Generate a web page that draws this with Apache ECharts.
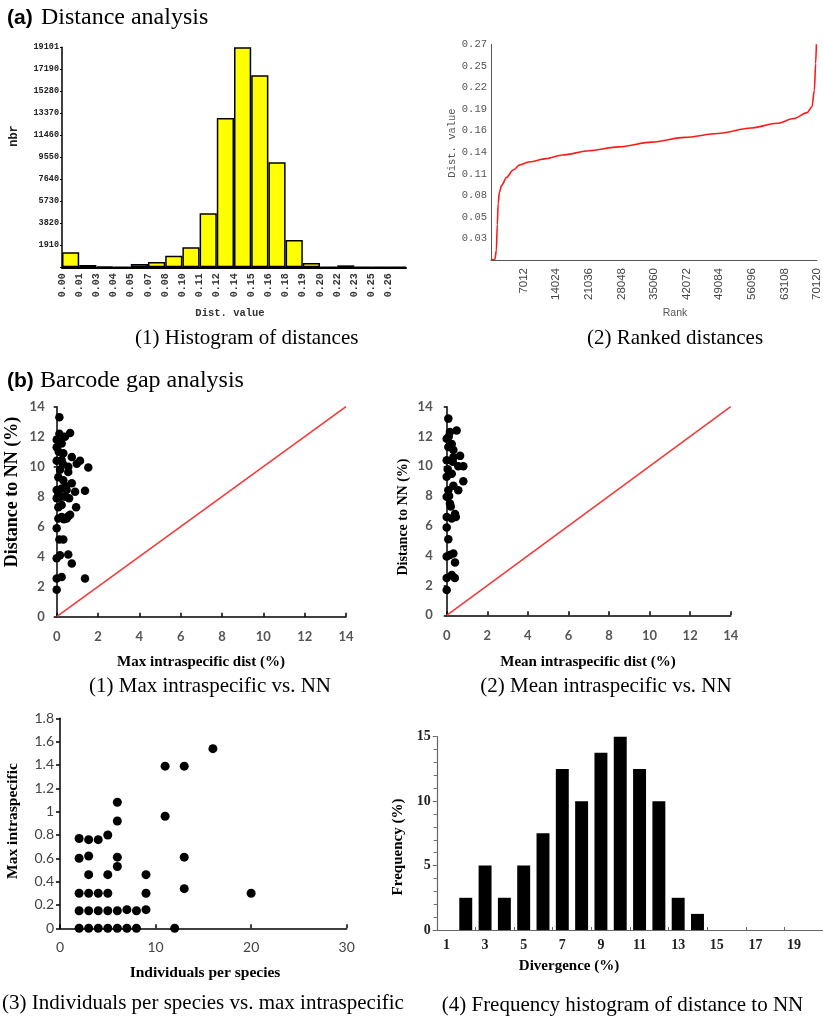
<!DOCTYPE html>
<html>
<head>
<meta charset="utf-8">
<script src="https://cdn.jsdelivr.net/npm/echarts@6/dist/echarts.min.js"></script>
<style>html,body{margin:0;padding:0;background:#fff}#c{width:823px;height:1020px}</style>
</head>
<body>
<div id="c"></div>
<script>
// (a1) Histogram of distances
const histBins = ['0.00','0.01','0.03','0.04','0.05','0.07','0.08','0.10','0.11','0.12','0.14','0.15','0.16','0.18','0.19','0.20','0.22','0.23','0.25','0.26'];
const histCounts = [1300, 200, 50, 30, 290, 460, 1010, 1740, 4690, 12960, 19101, 16670, 9115, 2370, 380, 30, 170, 20, 10, 5];
const histYTicks = ['1910','3820','5730','7640','9550','11460','13370','15280','17190','19101'];
// (a2) Ranked distances
const rankX = [0, 850, 1150, 1350, 1550, 1800, 2300, 3340, 4760, 6180, 8310, 11860, 15420, 21100, 27490, 34600, 41700, 48800, 55900, 61600, 65140, 67990, 69050, 69550, 69830, 69990];
const rankY = [0, 0.001, 0.012, 0.045, 0.072, 0.086, 0.095, 0.105, 0.1146, 0.121, 0.125, 0.129, 0.1337, 0.139, 0.144, 0.150, 0.156, 0.161, 0.168, 0.174, 0.180, 0.1875, 0.195, 0.216, 0.250, 0.2745];
const rankYTicks = ['0.03','0.05','0.08','0.11','0.14','0.16','0.19','0.22','0.25','0.27'];
const rankXTicks = ['7012','14024','21036','28048','35060','42072','49084','56096','63108','70120'];
// (b1) Max intraspecific vs NN
const maxIntra1 = [0.13,0,0,0.24,1.37,0,0.16,0.56,0.73,0.13,0.32,0,0.08,0.24,0.48,0.56,0.65,0.08,0.24,0.94,0,0.08,0.4,0.6,0,0.24,0.48,0.89,1.37,0.73,0.32,0.08,0.56,0.16,1.53,0.97,1.13,0.73,0,0.24,0.32,0,0.16,0.24,0,0.13,0.65,0.4,0.56,0.3,0.1,0.45,0.2,0.35];
const nnDist1 = [13.3,1.8,2.55,2.65,2.55,3.9,4.1,4.15,3.55,5.15,5.15,5.9,6.55,6.65,6.55,6.7,6.8,7.3,7.45,7.3,7.9,8.2,8.0,7.9,8.45,8.55,8.45,8.33,8.4,8.9,9.1,9.3,9.65,9.8,9.95,10.2,10.4,10.65,10.4,10.45,10.9,11.3,11.65,11.55,11.8,12.2,12.25,12.0,10.0,10.2,11.0,8.7,8.0,6.5];
// (b2) Mean intraspecific vs NN
const meanIntra2 = [0.08,0,0,0.25,0.4,0,0.16,0.33,0.41,0.08,0,0,0.25,0.41,0.16,0,0.08,0.57,0.33,0.82,0,0.25,0.57,0.82,0,0.33,0.66,0.08,0.25,0,0.16,0.49,0.33,0.12,0.2,0.45,0.05,0.3,0.1];
const nnDist2 = [13.2,1.7,2.5,2.7,2.5,3.95,4.05,4.15,3.55,5.1,5.9,6.6,6.5,6.8,7.5,7.95,8.4,8.4,8.7,9.0,9.3,9.5,10.0,10.0,10.4,10.6,10.7,11.3,11.5,11.85,12.3,12.4,11.1,8.0,7.3,6.6,9.8,10.3,12.0];
const diagLine = [[0,0],[14,14]];
// (b3) Individuals per species vs max intraspecific
const indiv = [2,2,2,2,2, 3,3,3,3,3,3, 4,4,4,4, 5,5,5,5,5, 6,6,6,6,6,6, 7,7, 8,8, 9,9,9, 11,11, 12, 13,13,13, 16, 20];
const maxIntra3 = [0,0.15,0.3,0.6,0.77, 0,0.15,0.3,0.46,0.62,0.76, 0,0.15,0.3,0.76, 0,0.15,0.3,0.46,0.8, 0,0.15,0.53,0.61,0.92,1.08, 0,0.16, 0,0.15, 0.16,0.3,0.46, 0.96,1.39, 0, 0.34,0.61,1.39, 1.54, 0.3];
// (b4) Frequency histogram of distance to NN
const divCats = ['1','2','3','4','5','6','7','8','9','10','11','12','13','14','15','16','17','18','19','20'];
const freq = [0,2.5,5,2.5,5,7.5,12.5,10,13.75,15,12.5,10,2.5,1.25,0,0,0,0,0,0];

const SERIF = '"Liberation Serif", "Times New Roman", serif';
const SANS = '"Liberation Sans", Arial, sans-serif';
const MONO = '"Liberation Mono", "DejaVu Sans Mono", monospace';
const CAL = 'Lato, "Open Sans", sans-serif';

function zip(a, b) { return a.map((v, i) => [v, b[i]]); }

const chart = echarts.init(document.getElementById('c'), null, {renderer: 'canvas'});

const noSplit = {show: false};
function txt(text, x, y, font, opts) {
  opts = opts || {};
  return {
    type: 'text', x: x, y: y, rotation: opts.rot || 0, silent: true,
    style: {text: text, font: font, fill: opts.fill || '#000', textAlign: opts.align || 'center', textVerticalAlign: 'middle'}
  };
}

const option = {
  animation: false,
  backgroundColor: '#fff',
  grid: [
    {left: 62, top: 47.3, width: 344, height: 220},
    {left: 491, top: 44.3, width: 329, height: 215.7},
    {left: 56.7, top: 406.7, width: 289.3, height: 210},
    {left: 446.7, top: 406.7, width: 284, height: 208.6},
    {left: 60, top: 718.3, width: 286.7, height: 210},
    {left: 436.8, top: 736.7, width: 396, height: 193.3}
  ],
  xAxis: [
    {type: 'category', gridIndex: 0, data: histBins, boundaryGap: true,
     axisLine: {show: true, lineStyle: {color: '#000', width: 2}}, axisTick: {show: false}, axisLabel: {show: false}, splitLine: noSplit},
    {type: 'value', gridIndex: 0, min: 0, max: 20, interval: 1, position: 'bottom',
     axisLine: {show: false}, axisTick: {show: false}, splitLine: noSplit,
     axisLabel: {rotate: 90, margin: 6, fontFamily: MONO, fontSize: 10, fontWeight: 'bold', color: '#333',
       formatter: v => histBins[v] || '', showMaxLabel: true, showMinLabel: true, hideOverlap: false}},
    {type: 'value', gridIndex: 1, min: 0, max: 70120, interval: 7012,
     axisLine: {show: true, lineStyle: {color: '#555', width: 1}}, axisTick: {show: false}, splitLine: noSplit,
     axisLabel: {rotate: 90, margin: 8, fontFamily: SANS, fontSize: 11.5, color: '#444',
       formatter: (v) => { const i = Math.round(v / 7012); return i === 0 ? '' : rankXTicks[i - 1]; }, hideOverlap: false}},
    {type: 'value', gridIndex: 2, min: 0, max: 14, interval: 2,
     axisLine: {show: true, lineStyle: {color: '#000', width: 1.5}}, axisTick: {show: true, inside: true, length: 4, lineStyle: {color: '#000', width: 1.5}}, splitLine: noSplit,
     axisLabel: {margin: 14, fontFamily: CAL, fontSize: 13, fontWeight: 'bold', color: '#555'}},
    {type: 'value', gridIndex: 3, min: 0, max: 14, interval: 2,
     axisLine: {show: true, lineStyle: {color: '#000', width: 1.5}}, axisTick: {show: true, inside: true, length: 4, lineStyle: {color: '#000', width: 1.5}}, splitLine: noSplit,
     axisLabel: {margin: 14, fontFamily: CAL, fontSize: 13, fontWeight: 'bold', color: '#555'}},
    {type: 'value', gridIndex: 4, min: 0, max: 30, interval: 10,
     axisLine: {show: true, lineStyle: {color: '#000', width: 1.5}}, axisTick: {show: true, inside: true, length: 4, lineStyle: {color: '#000', width: 1.5}}, splitLine: noSplit,
     axisLabel: {margin: 12, fontFamily: CAL, fontSize: 14, color: '#444'}},
    {type: 'category', gridIndex: 5, data: divCats, boundaryGap: true,
     axisLine: {show: true, lineStyle: {color: '#666', width: 1.2}}, axisTick: {show: true, inside: true, length: 3, lineStyle: {color: '#666'}}, splitLine: noSplit,
     axisLabel: {interval: 1, margin: 8, fontFamily: SERIF, fontSize: 14, fontWeight: 'bold', color: '#222'}}
  ],
  yAxis: [
    {type: 'value', gridIndex: 0, min: 0, max: 19101, interval: 1910.1,
     axisLine: {show: true, lineStyle: {color: '#000', width: 1.5}}, axisTick: {show: true, length: 2, lineStyle: {color: '#000'}}, splitLine: noSplit,
     axisLabel: {margin: 3, fontFamily: MONO, fontSize: 8.5, fontWeight: 'bold', color: '#222',
       formatter: (v) => { const i = Math.round(v / 1910.1); return i === 0 ? '' : histYTicks[i - 1]; }, showMaxLabel: true, hideOverlap: false}},
    {type: 'value', gridIndex: 1, min: 0, max: 0.2745, interval: 0.02745,
     axisLine: {show: true, lineStyle: {color: '#555', width: 1}}, axisTick: {show: false}, splitLine: noSplit,
     axisLabel: {margin: 4, fontFamily: MONO, fontSize: 10.5, color: '#555',
       formatter: (v) => { const i = Math.round(v / 0.02745); return i === 0 ? '' : rankYTicks[i - 1]; }, showMaxLabel: true, hideOverlap: false}},
    {type: 'value', gridIndex: 2, min: 0, max: 14, interval: 2,
     axisLine: {show: true, lineStyle: {color: '#000', width: 1.5}}, axisTick: {show: true, length: 3, lineStyle: {color: '#000', width: 1.5}}, splitLine: noSplit,
     axisLabel: {margin: 12, fontFamily: CAL, fontSize: 13, fontWeight: 'bold', color: '#555'}},
    {type: 'value', gridIndex: 3, min: 0, max: 14, interval: 2,
     axisLine: {show: true, lineStyle: {color: '#000', width: 1.5}}, axisTick: {show: true, length: 3, lineStyle: {color: '#000', width: 1.5}}, splitLine: noSplit,
     axisLabel: {margin: 14, fontFamily: CAL, fontSize: 13, fontWeight: 'bold', color: '#555'}},
    {type: 'value', gridIndex: 4, min: 0, max: 1.8, interval: 0.2,
     axisLine: {show: true, lineStyle: {color: '#000', width: 1.5}}, axisTick: {show: true, length: 4, lineStyle: {color: '#000', width: 1.5}}, splitLine: noSplit,
     axisLabel: {margin: 6, fontFamily: CAL, fontSize: 14, color: '#444'}},
    {type: 'value', gridIndex: 5, min: 0, max: 15, interval: 5,
     axisLine: {show: true, lineStyle: {color: '#666', width: 1.2}}, axisTick: {show: true, length: 4, lineStyle: {color: '#666'}},
     minorTick: {show: true, splitNumber: 5, length: 3, lineStyle: {color: '#666'}}, splitLine: noSplit,
     axisLabel: {margin: 6, fontFamily: SERIF, fontSize: 14, fontWeight: 'bold', color: '#222'}}
  ],
  series: [
    {type: 'bar', xAxisIndex: 0, yAxisIndex: 0, data: histCounts, barCategoryGap: '0%',
     itemStyle: {color: '#ffff00', borderColor: '#000', borderWidth: 1.5}},
    {type: 'line', xAxisIndex: 2, yAxisIndex: 1, data: zip(rankX, rankY), smooth: 0.3, smoothMonotone: 'x',
     showSymbol: false, lineStyle: {color: '#ff1a1a', width: 1.6}},
    {type: 'line', xAxisIndex: 3, yAxisIndex: 2, data: diagLine, showSymbol: false, lineStyle: {color: '#f23a3a', width: 1.6}},
    {type: 'scatter', xAxisIndex: 3, yAxisIndex: 2, data: zip(maxIntra1, nnDist1), symbolSize: 8.5, itemStyle: {color: '#000', opacity: 1}},
    {type: 'line', xAxisIndex: 4, yAxisIndex: 3, data: diagLine, showSymbol: false, lineStyle: {color: '#f23a3a', width: 1.6}},
    {type: 'scatter', xAxisIndex: 4, yAxisIndex: 3, data: zip(meanIntra2, nnDist2), symbolSize: 8.5, itemStyle: {color: '#000', opacity: 1}},
    {type: 'scatter', xAxisIndex: 5, yAxisIndex: 4, data: zip(indiv, maxIntra3), symbolSize: 9, itemStyle: {color: '#000', opacity: 1}},
    {type: 'bar', xAxisIndex: 6, yAxisIndex: 5, data: freq, barCategoryGap: '33%', itemStyle: {color: '#000'}}
  ],
  graphic: [
    txt('(a)', 7, 18, 'bold 21px ' + SANS, {align: 'left'}),
    txt('Distance analysis', 41, 18, '24px ' + SERIF, {align: 'left'}),
    txt('(b)', 7, 381, 'bold 21px ' + SANS, {align: 'left'}),
    txt('Barcode gap analysis', 40, 381, '24px ' + SERIF, {align: 'left'}),
    txt('nbr', 14, 136, 'bold 12px ' + MONO, {rot: Math.PI / 2, fill: '#222'}),
    txt('Dist. value', 230, 313, 'bold 10.5px ' + MONO, {fill: '#333'}),
    txt('(1) Histogram of distances', 246.7, 338, '21px ' + SERIF),
    txt('Dist. value', 452, 143, '10.5px ' + MONO, {rot: Math.PI / 2, fill: '#555'}),
    txt('Rank', 675, 313, '10.5px ' + SANS, {fill: '#555'}),
    txt('(2) Ranked distances', 675, 338, '21px ' + SERIF),
    txt('Distance to NN (%)', 12.5, 492, 'bold 18px ' + SERIF, {rot: Math.PI / 2}),
    txt('Max intraspecific dist (%)', 201, 662, 'bold 15px ' + SERIF),
    txt('(1) Max intraspecific vs. NN', 210, 686, '21px ' + SERIF),
    txt('Distance to NN (%)', 403, 517, 'bold 14px ' + SERIF, {rot: Math.PI / 2}),
    txt('Mean intraspecific dist (%)', 588, 662, 'bold 15px ' + SERIF),
    txt('(2) Mean intraspecific vs. NN', 606, 686, '21px ' + SERIF),
    txt('Max intraspecific', 13, 821, 'bold 15.5px ' + SERIF, {rot: Math.PI / 2}),
    txt('Individuals per species', 205, 973, 'bold 15.5px ' + SERIF),
    txt('(3) Individuals per species vs. max intraspecific', 203, 1003, '21px ' + SERIF),
    txt('Frequency (%)', 398, 847, 'bold 15px ' + SERIF, {rot: Math.PI / 2}),
    txt('Divergence (%)', 569, 966, 'bold 15px ' + SERIF),
    txt('(4) Frequency histogram of distance to NN', 622.5, 1005, '21px ' + SERIF)
  ]
};
chart.setOption(option);
</script>
</body>
</html>
